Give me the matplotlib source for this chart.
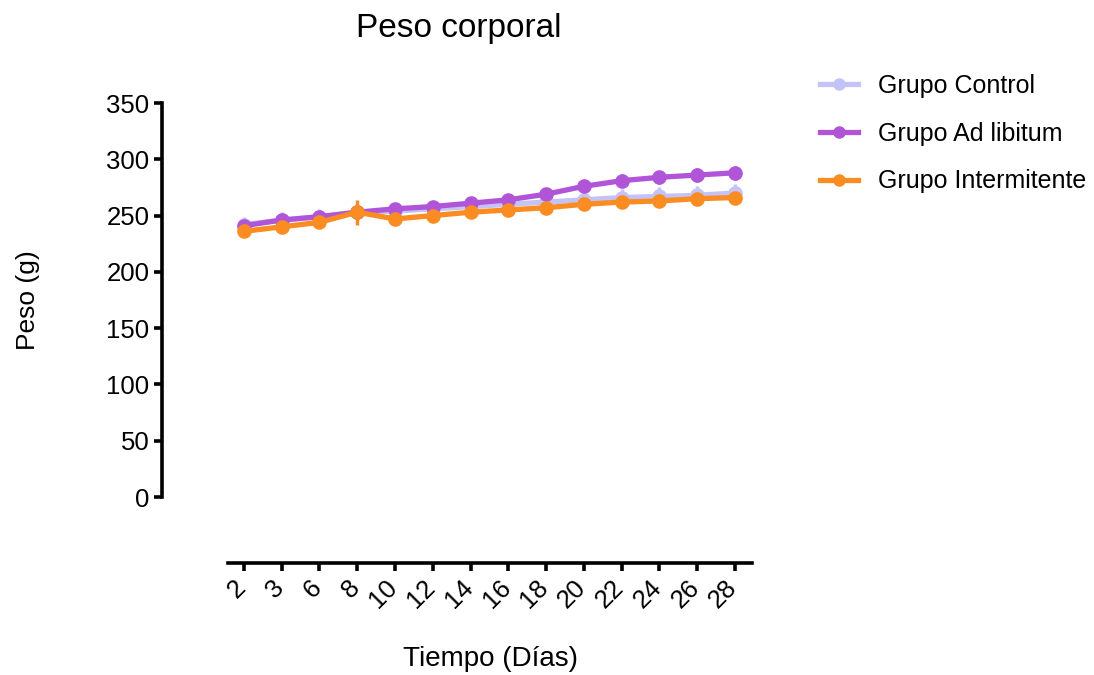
import numpy as np
import matplotlib
matplotlib.use('Agg')
import matplotlib.pyplot as plt
import matplotlib.transforms as mtransforms
from matplotlib.lines import Line2D

plt.rcParams['font.family'] = ['Liberation Sans', 'DejaVu Sans']

# data
dias = ['2', '3', '6', '8', '10', '12', '14', '16', '18', '20', '22', '24', '26', '28']
control = [242, 246, 249, 253, 254, 256, 258, 260, 262, 264, 266, 267, 268, 270]
control_err = [7, 7, 7, 7, 7, 7, 7, 7, 7, 7, 8, 8, 8, 8]
adlib = [241, 246, 249, 253, 256, 258, 261, 264, 269, 276, 281, 284, 286, 288]
adlib_err = [5, 5, 5, 5, 5, 5, 5, 5, 5, 6, 6, 6, 6, 6]
intermit = [236, 240, 244, 253, 247, 250, 253, 255, 257, 260, 262, 263, 265, 266]
intermit_err = [4, 4, 5, 11, 5, 5, 5, 5, 5, 5, 5, 5, 5, 5]

series = [
    ('Grupo Control', control, control_err, '#c3c3f7'),
    ('Grupo Ad libitum', adlib, adlib_err, '#b155d8'),
    ('Grupo Intermitente', intermit, intermit_err, '#fb8c22'),
]

fig = plt.figure(figsize=(10.94, 6.75), dpi=100)
ax = fig.add_axes([0.2084, 0.2637, 0.4790, 0.5837])

x = np.arange(len(dias))
handles = []
for name, y, err, col in series:
    ax.errorbar(x, y, yerr=err, color=col, lw=3.8, marker='o', ms=9.5,
                elinewidth=2.5, capsize=0)
    handles.append(Line2D([], [], color=col, lw=3.8, marker='o', ms=8, label=name))

ax.set_xlim(-0.42, 13.45)
ax.set_ylim(0, 350)
ax.set_yticks(range(0, 351, 50))
ax.set_xticks(x)

for s in ['top', 'right']:
    ax.spines[s].set_visible(False)
for s in ['left', 'bottom']:
    ax.spines[s].set_linewidth(2.6)
    ax.spines[s].set_position(('outward', 47.5))
ax.tick_params(width=2.6, length=6, labelsize=18.5, pad=3)
ax.set_xticklabels(dias, fontsize=18.5, rotation=45, ha='right', va='top')
shift = mtransforms.ScaledTranslation(7 / 100, 0, fig.dpi_scale_trans)
for lab in ax.get_xticklabels():
    lab.set_transform(lab.get_transform() + shift)

ax.set_ylabel('Peso (g)', fontsize=19)
ax.yaxis.set_label_coords(-0.359, 0.5)
ax.set_xlabel('Tiempo (Días)', fontsize=20)
ax.xaxis.set_label_coords(0.5, -0.377)
fig.text(0.419, 0.958, 'Peso corporal', ha='center', va='center', fontsize=24)

fig.legend(handles=handles, loc='upper left', bbox_to_anchor=(0.729, 0.924),
           frameon=False, fontsize=18, labelspacing=0.95, handlelength=1.5,
           handletextpad=0.8)

fig.savefig('out.png', dpi=100)
